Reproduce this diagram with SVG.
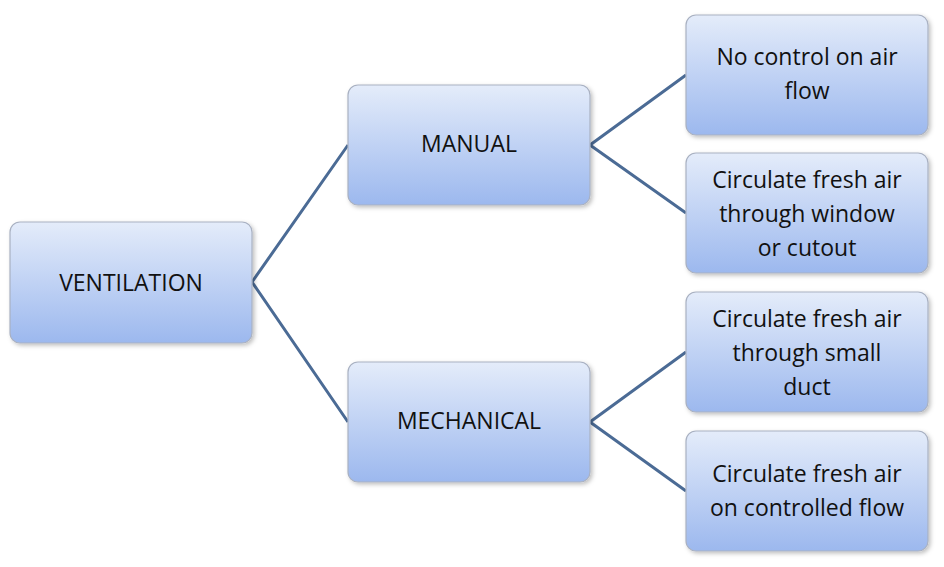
<svg xmlns="http://www.w3.org/2000/svg" width="944" height="567" viewBox="0 0 944 567">
<defs>
<linearGradient id="g" x1="0" y1="0" x2="0" y2="1"><stop offset="0" stop-color="#e4ecfa"/><stop offset="1" stop-color="#9cb8ee"/></linearGradient>
<filter id="s" x="-10%" y="-10%" width="130%" height="130%"><feDropShadow dx="2" dy="2" stdDeviation="2" flood-color="#000" flood-opacity="0.25"/></filter>
</defs>
<style>
.n{fill:url(#g);stroke:#a9b1c2;stroke-width:1.2;filter:url(#s)}
.t{font-family:"Open Sans","Liberation Sans",sans-serif;font-size:23px;fill:#111;text-anchor:middle}
.c{stroke:#4b6b95;stroke-width:3;fill:none}
</style>
<rect width="944" height="567" fill="#fff"/>
<g id="connectors">
<path class="c" d="M252,282 L348,145 M252,282 L348,422 M590,145 L686,75 M590,145 L686,213 M590,422 L686,352 M590,422 L686,491"/>
</g>
<g id="ventilation"><rect class="n" x="10" y="222" width="242" height="121" rx="10"/><text class="t" x="131" y="291">VENTILATION</text></g>
<g id="manual"><rect class="n" x="348" y="85" width="242" height="120" rx="10"/><text class="t" x="469" y="152">MANUAL</text></g>
<g id="mechanical"><rect class="n" x="348" y="362" width="242" height="120" rx="10"/><text class="t" x="469" y="429">MECHANICAL</text></g>
<g id="n1"><rect class="n" x="686" y="15" width="242" height="120" rx="10"/><text class="t" x="807" y="65">No control on air</text><text class="t" x="807" y="99">flow</text></g>
<g id="n2"><rect class="n" x="686" y="153" width="242" height="120" rx="10"/><text class="t" x="807" y="188">Circulate fresh air</text><text class="t" x="807" y="222">through window</text><text class="t" x="807" y="256">or cutout</text></g>
<g id="n3"><rect class="n" x="686" y="292" width="242" height="120" rx="10"/><text class="t" x="807" y="327">Circulate fresh air</text><text class="t" x="807" y="361">through small</text><text class="t" x="807" y="395">duct</text></g>
<g id="n4"><rect class="n" x="686" y="431" width="242" height="120" rx="10"/><text class="t" x="807" y="482">Circulate fresh air</text><text class="t" x="807" y="516">on controlled flow</text></g>
</svg>
